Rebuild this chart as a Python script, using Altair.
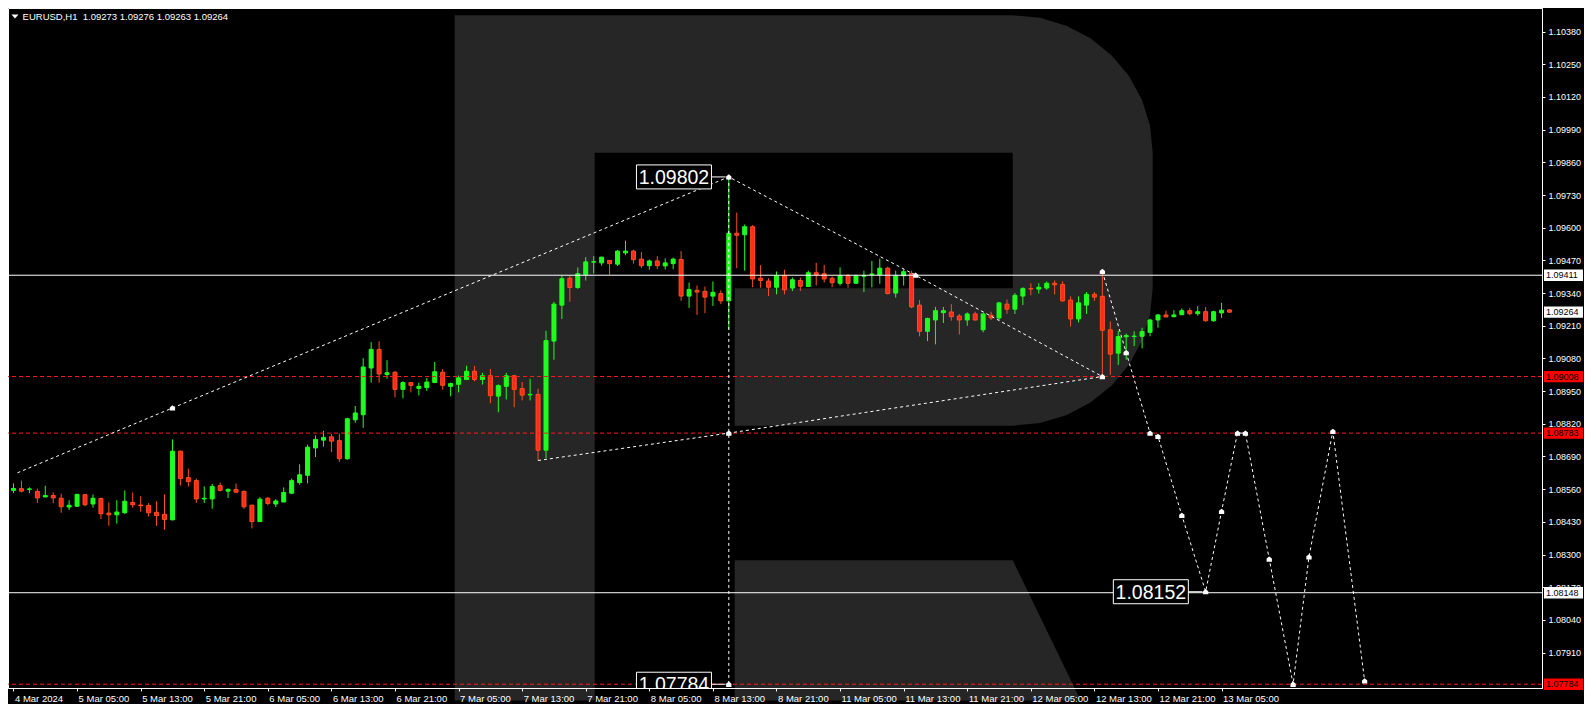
import json
import pandas as pd
import altair as alt

# ---------------- data (EURUSD H1, bar index 0 = 4 Mar 21:00) ----------------
opens = [
    1.08555, 1.08562, 1.08559, 1.08551, 1.08529, 1.08535, 1.08524, 1.08489, 1.08492, 1.08538,
    1.08501, 1.08523, 1.08465, 1.08458, 1.08466, 1.08507, 1.08497, 1.08495, 1.08468, 1.08460,
    1.08438, 1.08711, 1.08606, 1.08594, 1.08521, 1.08521, 1.08574, 1.08552, 1.08559, 1.08551,
    1.08496, 1.08431, 1.08524, 1.08501, 1.08509, 1.08544, 1.08586, 1.08615, 1.08724, 1.08755,
    1.08768, 1.08753, 1.08681, 1.08836, 1.08856, 1.09042, 1.09116, 1.09016, 1.09025, 1.08957,
    1.08984, 1.08961, 1.08964, 1.08984, 1.09025, 1.08969, 1.08977, 1.08996, 1.09029, 1.08996,
    1.09011, 1.08930, 1.08969, 1.09011, 1.08960, 1.08935, 1.08937, 1.08715, 1.09149, 1.09292,
    1.09399, 1.09362, 1.09413, 1.09463, 1.09460, 1.09470, 1.09455, 1.09500, 1.09507, 1.09475,
    1.09449, 1.09468, 1.09448, 1.09457, 1.09474, 1.09328, 1.09351, 1.09347, 1.09328, 1.09338,
    1.09309, 1.09578, 1.09572, 1.09604, 1.09399, 1.09388, 1.09363, 1.09409, 1.09360, 1.09390,
    1.09366, 1.09421, 1.09417, 1.09399, 1.09379, 1.09409, 1.09379, 1.09407, 1.09414, 1.09413,
    1.09439, 1.09340, 1.09409, 1.09418, 1.09292, 1.09188, 1.09233, 1.09262, 1.09265, 1.09249,
    1.09233, 1.09257, 1.09194, 1.09252, 1.09241, 1.09296, 1.09276, 1.09328, 1.09358, 1.09356,
    1.09360, 1.09379, 1.09374, 1.09312, 1.09237, 1.09292, 1.09335, 1.09327, 1.09194, 1.09101,
    1.09166, 1.09167, 1.09168, 1.09184, 1.09233, 1.09253, 1.09246, 1.09254, 1.09270, 1.09258,
    1.09266, 1.09230, 1.09261, 1.09273,
]
highs = [
    1.08583, 1.08594, 1.08567, 1.08562, 1.08574, 1.08547, 1.08542, 1.08516, 1.08542, 1.08540,
    1.08539, 1.08526, 1.08508, 1.08516, 1.08555, 1.08547, 1.08532, 1.08505, 1.08512, 1.08539,
    1.08758, 1.08713, 1.08641, 1.08602, 1.08571, 1.08581, 1.08586, 1.08563, 1.08582, 1.08555,
    1.08499, 1.08528, 1.08528, 1.08520, 1.08567, 1.08602, 1.08659, 1.08737, 1.08774, 1.08792,
    1.08779, 1.08781, 1.08844, 1.08891, 1.09081, 1.09145, 1.09148, 1.09073, 1.09030, 1.08989,
    1.08986, 1.08984, 1.09002, 1.09066, 1.09038, 1.08984, 1.09012, 1.09051, 1.09050, 1.09023,
    1.09038, 1.08977, 1.09023, 1.09015, 1.08986, 1.08999, 1.08960, 1.09190, 1.09305, 1.09409,
    1.09409, 1.09442, 1.09483, 1.09487, 1.09484, 1.09471, 1.09511, 1.09548, 1.09512, 1.09503,
    1.09473, 1.09487, 1.09478, 1.09481, 1.09507, 1.09382, 1.09370, 1.09366, 1.09386, 1.09351,
    1.09802, 1.09660, 1.09613, 1.09610, 1.09451, 1.09399, 1.09426, 1.09433, 1.09402, 1.09402,
    1.09429, 1.09460, 1.09452, 1.09406, 1.09442, 1.09416, 1.09413, 1.09429, 1.09468, 1.09477,
    1.09445, 1.09429, 1.09435, 1.09429, 1.09312, 1.09242, 1.09285, 1.09285, 1.09296, 1.09257,
    1.09263, 1.09266, 1.09262, 1.09266, 1.09305, 1.09314, 1.09340, 1.09363, 1.09379, 1.09379,
    1.09386, 1.09390, 1.09387, 1.09327, 1.09327, 1.09344, 1.09344, 1.09420, 1.09227, 1.09190,
    1.09179, 1.09188, 1.09202, 1.09238, 1.09257, 1.09270, 1.09272, 1.09279, 1.09280, 1.09288,
    1.09285, 1.09270, 1.09301, 1.09276,
]
lows = [
    1.08544, 1.08547, 1.08544, 1.08505, 1.08528, 1.08504, 1.08466, 1.08477, 1.08490, 1.08492,
    1.08486, 1.08441, 1.08414, 1.08423, 1.08462, 1.08486, 1.08470, 1.08451, 1.08414, 1.08399,
    1.08436, 1.08574, 1.08571, 1.08505, 1.08505, 1.08482, 1.08551, 1.08525, 1.08544, 1.08482,
    1.08404, 1.08430, 1.08496, 1.08489, 1.08508, 1.08540, 1.08578, 1.08583, 1.08688, 1.08729,
    1.08707, 1.08668, 1.08677, 1.08824, 1.08804, 1.08984, 1.08984, 1.08999, 1.08925, 1.08921,
    1.08945, 1.08933, 1.08951, 1.08984, 1.08956, 1.08929, 1.08945, 1.08996, 1.08989, 1.08976,
    1.08902, 1.08866, 1.08917, 1.08886, 1.08913, 1.08913, 1.08674, 1.08683, 1.09075, 1.09237,
    1.09305, 1.09357, 1.09390, 1.09418, 1.09449, 1.09413, 1.09448, 1.09491, 1.09457, 1.09439,
    1.09433, 1.09436, 1.09434, 1.09435, 1.09309, 1.09281, 1.09253, 1.09260, 1.09289, 1.09296,
    1.09194, 1.09439, 1.09429, 1.09363, 1.09361, 1.09328, 1.09335, 1.09335, 1.09348, 1.09348,
    1.09366, 1.09370, 1.09382, 1.09363, 1.09370, 1.09361, 1.09379, 1.09344, 1.09363, 1.09377,
    1.09335, 1.09322, 1.09370, 1.09280, 1.09168, 1.09149, 1.09136, 1.09221, 1.09230, 1.09175,
    1.09210, 1.09231, 1.09184, 1.09233, 1.09233, 1.09257, 1.09257, 1.09292, 1.09331, 1.09338,
    1.09353, 1.09335, 1.09305, 1.09207, 1.09223, 1.09257, 1.09309, 1.09006, 1.09015, 1.09054,
    1.09075, 1.09129, 1.09120, 1.09168, 1.09202, 1.09244, 1.09244, 1.09252, 1.09252, 1.09250,
    1.09226, 1.09226, 1.09241, 1.09263,
]
closes = [
    1.08563, 1.08552, 1.08561, 1.08525, 1.08535, 1.08525, 1.08490, 1.08496, 1.08539, 1.08498,
    1.08524, 1.08462, 1.08458, 1.08469, 1.08512, 1.08498, 1.08494, 1.08466, 1.08455, 1.08439,
    1.08711, 1.08602, 1.08590, 1.08521, 1.08524, 1.08571, 1.08555, 1.08559, 1.08548, 1.08490,
    1.08431, 1.08520, 1.08503, 1.08513, 1.08547, 1.08594, 1.08617, 1.08727, 1.08758, 1.08766,
    1.08751, 1.08681, 1.08840, 1.08863, 1.09046, 1.09116, 1.09018, 1.09023, 1.08957, 1.08984,
    1.08973, 1.08969, 1.08986, 1.09027, 1.08973, 1.08980, 1.09003, 1.09029, 1.08996, 1.09011,
    1.08932, 1.08972, 1.09011, 1.08957, 1.08934, 1.08937, 1.08715, 1.09151, 1.09296, 1.09397,
    1.09362, 1.09417, 1.09464, 1.09465, 1.09483, 1.09457, 1.09507, 1.09507, 1.09473, 1.09449,
    1.09468, 1.09449, 1.09460, 1.09475, 1.09328, 1.09354, 1.09344, 1.09324, 1.09343, 1.09309,
    1.09578, 1.09570, 1.09604, 1.09396, 1.09390, 1.09363, 1.09409, 1.09353, 1.09393, 1.09367,
    1.09421, 1.09413, 1.09396, 1.09381, 1.09409, 1.09379, 1.09409, 1.09409, 1.09416, 1.09439,
    1.09338, 1.09409, 1.09425, 1.09285, 1.09188, 1.09239, 1.09270, 1.09270, 1.09246, 1.09233,
    1.09257, 1.09233, 1.09257, 1.09241, 1.09301, 1.09276, 1.09331, 1.09358, 1.09356, 1.09363,
    1.09379, 1.09373, 1.09309, 1.09237, 1.09301, 1.09335, 1.09324, 1.09192, 1.09097, 1.09167,
    1.09171, 1.09169, 1.09187, 1.09233, 1.09253, 1.09245, 1.09253, 1.09270, 1.09258, 1.09266,
    1.09230, 1.09266, 1.09272, 1.09264,
]

x_tick_bars = list(range(0, 153, 8))
x_tick_labels = [
    "4 Mar 2024", "5 Mar 05:00", "5 Mar 13:00", "5 Mar 21:00", "6 Mar 05:00",
    "6 Mar 13:00", "6 Mar 21:00", "7 Mar 05:00", "7 Mar 13:00", "7 Mar 21:00",
    "8 Mar 05:00", "8 Mar 13:00", "8 Mar 21:00", "11 Mar 05:00", "11 Mar 13:00",
    "11 Mar 21:00", "12 Mar 05:00", "12 Mar 13:00", "12 Mar 21:00", "13 Mar 05:00",
]
y_tick_values = [
    1.10380, 1.10250, 1.10120, 1.09990, 1.09860, 1.09730, 1.09600, 1.09470, 1.09340, 1.09210,
    1.09080, 1.08950, 1.08820, 1.08690, 1.08560, 1.08430, 1.08300, 1.08170, 1.08040, 1.07910,
]

white_levels = [1.09411, 1.08148]
red_levels = [1.09008, 1.08783, 1.07784]
tag_white = [1.09411, 1.09264, 1.08148]
tag_red = [1.09008, 1.08783, 1.07784]

wave_up_x = [0.5, 20, 90, 113.5, 137]
wave_up_p = [1.08625, 1.08883, 1.09802, 1.09411, 1.09008]
wave_low_x = [66, 90, 137]
wave_low_p = [1.08674, 1.08783, 1.09008]
vert_x = [90, 90]
vert_p = [1.09802, 1.07784]
fcst_x = [137, 140, 143, 144, 147, 150, 152, 154, 155, 158, 161, 163, 166, 170]
fcst_p = [1.09426, 1.09103, 1.08783, 1.08770, 1.08456, 1.08152, 1.08472, 1.08783,
          1.08783, 1.08282, 1.07784, 1.08291, 1.08790, 1.07797]

marker_x = [20, 90, 113.5, 137, 90, 90, 137, 140, 143, 144, 147, 150, 152, 154, 155,
            158, 161, 163, 166, 170]
marker_p = [1.08883, 1.09802, 1.09411, 1.09008, 1.08783, 1.07784, 1.09426, 1.09103,
            1.08783, 1.08770, 1.08456, 1.08152, 1.08472, 1.08783, 1.08783, 1.08282,
            1.07784, 1.08291, 1.08790, 1.07797]

big_text = ["1.09802", "1.07784", "1.08152"]
big_x = [83.1, 83.1, 143.1]
big_p = [1.09802, 1.07784, 1.08152]
conn_x1 = [87.8, 87.8, 147.8]
conn_x2 = [89.6, 89.6, 149.6]

header = "EURUSD,H1\u00a0 1.09273 1.09276 1.09263 1.09264"

# ---------------- layout / style ----------------
W, H = 1534, 680
X_DOMAIN = [-0.0625, 191.6875]
Y_DOMAIN = [1.07769, 1.10474]
xs = alt.Scale(domain=X_DOMAIN, nice=False, zero=False)
ys = alt.Scale(domain=Y_DOMAIN, nice=False, zero=False)

FONT = "Liberation Sans"
BULL = "#1eff1e"
BEAR_FILL = "#ff2a1a"
BEAR_EDGE = "#ff4f1f"
GREY = "#262626"

# watermark "R" outline (normalised symbol coordinates)
KY = 0.982
r_outer = [(-1, -1), (0.5989, -1), (0.6772, -0.9923), (0.7524, -0.9695), (0.8218, -0.9324),
           (0.8825, -0.8825), (0.9324, -0.8218), (0.9695, -0.7524), (0.9923, -0.6772),
           (1, -0.5989), (1, -0.2034), (0.9923, -0.1251), (0.9695, -0.0499), (0.9324, 0.0194),
           (0.8825, 0.0802), (0.8217, 0.1301), (0.7524, 0.1672), (0.6772, 0.1900),
           (0.5989, 0.1977), (-0.1977, 0.1977), (-0.1977, -0.2034), (0.5989, -0.2034),
           (0.5989, -0.5989), (-0.5989, -0.5989), (-0.5989, 1), (-1, 1)]
r_leg = [(-0.1977, 0.5903), (0.5989, 0.5903), (0.7937, 1), (-0.1977, 1)]


def poly(pts):
    return "M" + "L".join(f"{a:.4f},{b * KY:.4f}" for a, b in pts) + "Z"


R_PATH = poly(r_outer) + poly(r_leg)
HOUSE = "M-1,1L-1,-0.2L0,-1L1,-0.2L1,1Z"
BIG_BOX = "M-1,-0.32L1,-0.32L1,0.32L-1,0.32Z"
TAG_BOX = "M-1,-0.29L1,-0.29L1,0.29L-1,0.29Z"
TRI = "M-1,-0.6L1,-0.6L0,0.6Z"

# ---------------- tables ----------------
n = len(opens)
candles = pd.DataFrame({"i": list(range(n)), "o": opens, "h": highs, "l": lows, "c": closes})

rows = []
for seg, (sx, sp) in enumerate([(wave_up_x, wave_up_p), (wave_low_x, wave_low_p),
                                 (vert_x, vert_p), (fcst_x, fcst_p)]):
    for k, (a, b) in enumerate(zip(sx, sp)):
        rows.append({"seg": seg, "k": k, "i": a, "p": b})
lines_df = pd.DataFrame(rows)
markers_df = pd.DataFrame({"i": marker_x, "p": marker_p})
big_df = pd.DataFrame({"i": big_x, "p": big_p, "t": big_text, "x1": conn_x1, "x2": conn_x2})

# ---------------- axes (identical on every layer so they merge) ----------------
label_expr = json.dumps(x_tick_labels) + "[round(datum.value / 8)]"
x_axis = alt.Axis(values=x_tick_bars, labelExpr=label_expr, labelAlign="left", labelBaseline="top",
                  labelColor="white", labelFont=FONT, labelFontSize=9.5, labelPadding=2,
                  labelOffset=1, labelOverlap=False, labelFlush=False, labelBound=False,
                  tickColor="white", tickSize=3, tickWidth=1, domainColor="white",
                  domainWidth=1, grid=False, title=None, zindex=1, orient="bottom")
y_axis = alt.Axis(orient="right", values=y_tick_values, format=".5f", labelColor="white",
                  labelFont=FONT, labelFontSize=9, labelPadding=3, labelOverlap=False,
                  labelFlush=False, labelBound=False, tickColor="white", tickSize=3,
                  tickWidth=1, domainColor="white", domainWidth=1, grid=False, title=None,
                  zindex=0)


def X(f):
    return alt.X(f, scale=xs, axis=x_axis)


def Y(f):
    return alt.Y(f, scale=ys, axis=y_axis)


# ---------------- layers ----------------
one = pd.DataFrame({"k": [0]})
watermark = alt.Chart(one).mark_point(shape=R_PATH, filled=True, fill=GREY, strokeWidth=0,
                                      opacity=1, size=(2 * 349) ** 2).encode(
    x=alt.value(795.7), y=alt.value(349.9))

hl_white = alt.Chart(pd.DataFrame({"p": white_levels})).mark_rule(
    color="white", strokeWidth=1).encode(y=Y("p:Q"))
hl_red = alt.Chart(pd.DataFrame({"p": red_levels})).mark_rule(
    color="#ff1a1a", strokeWidth=1, strokeDash=[4, 3]).encode(y=Y("p:Q"))

base = alt.Chart(candles)
up = base.transform_filter("datum.c >= datum.o")
dn = base.transform_filter("datum.c < datum.o")
wick_up = up.mark_rule(color=BULL, strokeWidth=1, clip=True).encode(
    x=X("i:Q"), y=Y("l:Q"), y2="h:Q")
wick_dn = dn.mark_rule(color=BEAR_EDGE, strokeWidth=1, clip=True).encode(
    x=X("i:Q"), y=Y("l:Q"), y2="h:Q")
body_up = up.mark_bar(size=4, fill=BULL, stroke=BULL, strokeWidth=1, clip=True,
                      orient="vertical").encode(x=X("i:Q"), y=Y("o:Q"), y2="c:Q")
body_dn = dn.mark_bar(size=4, fill=BEAR_FILL, stroke=BEAR_EDGE, strokeWidth=1, clip=True,
                      orient="vertical").encode(x=X("i:Q"), y=Y("o:Q"), y2="c:Q")

dotted = alt.Chart(lines_df).mark_line(color="white", strokeWidth=1, strokeDash=[3, 3]).encode(
    x=X("i:Q"), y=Y("p:Q"), detail="seg:N", order="k:Q")
markers = alt.Chart(markers_df).mark_point(shape=HOUSE, filled=True, fill="white",
                                           strokeWidth=0, opacity=1, size=28).encode(
    x=X("i:Q"), y=Y("p:Q"))
connectors = alt.Chart(big_df).mark_rule(color="white", strokeWidth=1, clip=True).encode(
    x=X("x1:Q"), x2="x2:Q", y=Y("p:Q"))
big_boxes = alt.Chart(big_df).mark_point(shape=BIG_BOX, size=75 ** 2, filled=True, fill="black",
                                         stroke="white", strokeWidth=1, opacity=1,
                                         clip=True).encode(x=X("i:Q"), y=Y("p:Q"))
big_texts = alt.Chart(big_df).mark_text(font=FONT, fontSize=19.5, color="white", align="center",
                                        baseline="middle", dy=1, clip=True).encode(
    x=X("i:Q"), y=Y("p:Q"), text="t:N")

tag_w = alt.Chart(pd.DataFrame({"p": tag_white})).mark_point(
    shape=TAG_BOX, size=39 ** 2, filled=True, fill="white", strokeWidth=0, opacity=1).encode(
    x=alt.value(W + 21.5), y=Y("p:Q"))
tag_r = alt.Chart(pd.DataFrame({"p": tag_red})).mark_point(
    shape=TAG_BOX, size=39 ** 2, filled=True, fill="#ff0000", strokeWidth=0, opacity=1).encode(
    x=alt.value(W + 21.5), y=Y("p:Q"))
tag_text = alt.Chart(pd.DataFrame({"p": tag_white + tag_red})).mark_text(
    font=FONT, fontSize=9, color="black", align="left", baseline="middle").encode(
    x=alt.value(W + 4), y=Y("p:Q"), text=alt.Text("p:Q", format=".5f"))

head_tri = alt.Chart(one).mark_point(shape=TRI, size=49, filled=True, fill="white",
                                     strokeWidth=0, opacity=1).encode(
    x=alt.value(7), y=alt.value(8.5))
head_text = alt.Chart(pd.DataFrame({"t": [header]})).mark_text(
    font=FONT, fontSize=9.5, color="white", align="left", baseline="middle").encode(
    x=alt.value(14.6), y=alt.value(8.8), text="t:N")

chart = alt.layer(
    watermark, wick_up, wick_dn, body_up, body_dn, hl_white, hl_red,
    dotted, markers, connectors, big_boxes, big_texts,
    tag_w, tag_r, tag_text, head_tri, head_text,
).properties(
    width=W, height=H,
    autosize=alt.AutoSizeParams(type="none"),
    padding={"left": 0, "top": 0, "right": 42, "bottom": 16},
).configure(background="black").configure_view(stroke="white", strokeWidth=1)

chart.save("out.html", embed_options={"renderer": "svg", "actions": False})
